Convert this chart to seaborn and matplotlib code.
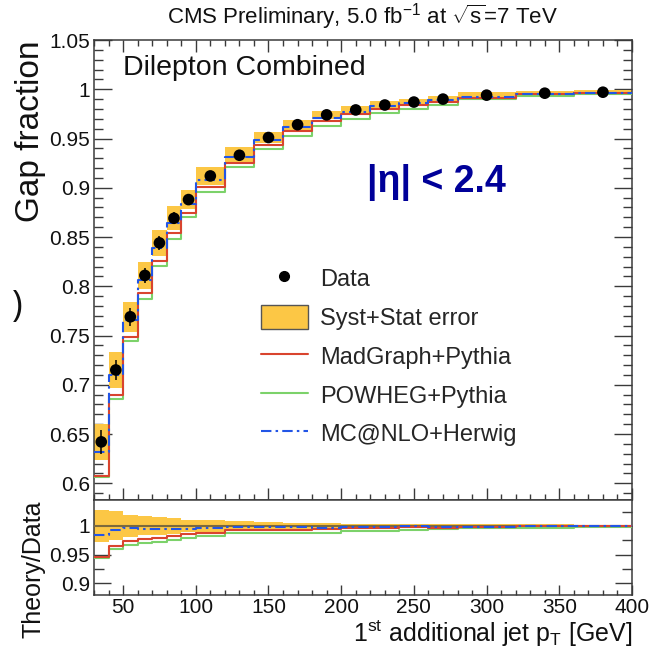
import matplotlib

matplotlib.use("Agg")

import matplotlib.pyplot as plt
import numpy as np
import seaborn as sns
from matplotlib.lines import Line2D
from matplotlib.patches import Patch
from matplotlib.ticker import MultipleLocator


# bin edges / centres of the 1st additional jet pT (GeV)
bin_edges = [30, 40, 50, 60, 70, 80, 90, 100, 120, 140, 160, 180, 200, 220, 240, 260, 280, 320, 360, 400]
bin_centers = [35, 45, 55, 65, 75, 85, 95, 110, 130, 150, 170, 190, 210, 230, 250, 270, 300, 340, 380]

# measured gap fraction
gap_data = [0.642, 0.715, 0.769, 0.811, 0.844, 0.869, 0.888, 0.912, 0.933, 0.951,
            0.964, 0.974, 0.979, 0.984, 0.987, 0.990, 0.994, 0.996, 0.997]
stat_err = [0.012, 0.010, 0.009, 0.008, 0.007, 0.006, 0.006, 0.005, 0.004, 0.003,
            0.003, 0.002, 0.002, 0.002, 0.002, 0.002, 0.001, 0.001, 0.001]
total_err = [0.018, 0.018, 0.015, 0.0135, 0.013, 0.012, 0.0095, 0.0095, 0.0082, 0.006,
             0.005, 0.0043, 0.0038, 0.0038, 0.0035, 0.003, 0.003, 0.0025, 0.002]

# predictions
madgraph = [0.607, 0.690, 0.7485, 0.793, 0.826, 0.8545, 0.8748, 0.901, 0.9256, 0.9438,
            0.9577, 0.968, 0.9746, 0.980, 0.9844, 0.987, 0.9916, 0.995, 0.9963]
powheg = [0.606, 0.686, 0.744, 0.7875, 0.821, 0.8484, 0.870, 0.8957, 0.921, 0.939,
          0.9523, 0.9627, 0.970, 0.976, 0.980, 0.9844, 0.9896, 0.993, 0.995]
mcatnlo = [0.632, 0.710, 0.766, 0.806, 0.839, 0.8643, 0.884, 0.908, 0.931, 0.9489,
           0.9617, 0.971, 0.977, 0.9827, 0.986, 0.9888, 0.992, 0.9956, 0.9966]

labels = ["Data", "Syst+Stat error", "MadGraph+Pythia", "POWHEG+Pythia", "MC@NLO+Herwig"]

BAND = "#FCC745"
RED = "#D9442E"
GREEN = "#7CD26A"
BLUE = "#2255E6"
DASHDOT = (0, (5, 2, 1.2, 2))
FRAME = "#3a3a3a"


def ext(values):
    # repeat last value so a steps-post line covers the final bin
    values = np.asarray(values, dtype=float)
    return np.append(values, values[-1])


def style_axes(ax):
    for side in ax.spines.values():
        side.set_color(FRAME)
        side.set_linewidth(1.1)
    ax.tick_params(which="both", direction="in", colors=FRAME, labelcolor="#111111",
                   top=True, right=True, bottom=True, left=True, width=1.0,
                   labelsize=15)


def draw_steps(ax, y, color, lw, ls="-"):
    sns.lineplot(x=bin_edges, y=ext(y), drawstyle="steps-post", color=color,
                 linewidth=lw, ax=ax, zorder=4)
    ax.lines[-1].set_linestyle(ls)


def main():
    sns.set_theme(style="white")
    plt.rcParams["font.family"] = ["Liberation Sans", "DejaVu Sans"]
    plt.rcParams["mathtext.fontset"] = "custom"
    plt.rcParams["mathtext.rm"] = "Liberation Sans"
    plt.rcParams["mathtext.it"] = "Liberation Sans:italic"

    W = 652.0
    fig = plt.figure(figsize=(6.52, 6.52), dpi=100)
    ax = fig.add_axes([94 / W, 1 - 500 / W, 538 / W, 460 / W])
    rax = fig.add_axes([94 / W, 1 - 595 / W, 538 / W, 95 / W], sharex=ax)

    data = np.asarray(gap_data)
    err = np.asarray(total_err)

    # ---- main panel
    ax.fill_between(bin_edges, ext(data - err), ext(data + err), step="post",
                    color=BAND, linewidth=0, zorder=1)
    draw_steps(ax, powheg, GREEN, 1.5)
    draw_steps(ax, madgraph, RED, 1.5)
    draw_steps(ax, mcatnlo, BLUE, 1.5, DASHDOT)
    ax.errorbar(bin_centers, gap_data, yerr=stat_err, fmt="none", ecolor="black",
                elinewidth=1.1, zorder=5)
    sns.scatterplot(x=bin_centers, y=gap_data, color="black", s=70, edgecolor="none",
                    ax=ax, zorder=6)

    ax.set_xlim(30, 400)
    ax.set_ylim(0.583, 1.05)
    ax.yaxis.set_minor_locator(MultipleLocator(0.01))
    ax.xaxis.set_major_locator(MultipleLocator(50))
    ax.xaxis.set_minor_locator(MultipleLocator(10))
    ax.set_yticks([0.6, 0.65, 0.7, 0.75, 0.8, 0.85, 0.9, 0.95, 1.0, 1.05])
    ax.set_yticklabels(["0.6", "0.65", "0.7", "0.75", "0.8", "0.85", "0.9", "0.95", "1", "1.05"])
    style_axes(ax)
    ax.tick_params(axis="x", which="major", length=8.5, labelbottom=False)
    ax.tick_params(axis="x", which="minor", length=4.5)
    ax.tick_params(axis="y", which="major", length=13, pad=3)
    ax.tick_params(axis="y", which="minor", length=6.5)
    ax.set_xlabel("")
    ax.set_ylabel("")

    ax.text(0.054, 0.939, "Dilepton Combined", transform=ax.transAxes,
            fontsize=20.5, va="center", ha="left", color="#111111")
    ax.text(0.507, 0.691, "|η| < 2.4", transform=ax.transAxes, fontsize=27,
            fontweight="bold", color="#000099", va="center", ha="left")

    handles = [
        Line2D([], [], marker="o", ls="none", color="black", markersize=7),
        Patch(facecolor=BAND, edgecolor="#555555", linewidth=1.0),
        Line2D([], [], color=RED, lw=1.5),
        Line2D([], [], color=GREEN, lw=1.5),
        Line2D([], [], color=BLUE, lw=1.5, ls=DASHDOT),
    ]
    ax.legend(handles, labels, loc="upper left", bbox_to_anchor=(0.31, 0.508),
              frameon=False, fontsize=17, handlelength=2.0, handleheight=1.2,
              labelspacing=0.58, handletextpad=0.5, borderpad=0, borderaxespad=0)

    # ---- ratio panel
    rel = err / data
    rax.fill_between(bin_edges, ext(1 - rel), ext(1 + rel), step="post",
                     color=BAND, linewidth=0, zorder=1)
    rax.axhline(1.0, color="#7d6a3c", linewidth=1.5, zorder=3)
    draw_steps(rax, np.asarray(powheg) / data, GREEN, 1.5)
    draw_steps(rax, np.asarray(madgraph) / data, RED, 1.5)
    draw_steps(rax, np.asarray(mcatnlo) / data, BLUE, 1.5, DASHDOT)

    rax.set_ylim(0.88, 1.045)
    rax.set_yticks([0.9, 0.95, 1.0])
    rax.set_yticklabels(["0.9", "0.95", "1"])
    rax.yaxis.set_minor_locator(MultipleLocator(0.025))
    style_axes(rax)
    rax.tick_params(axis="x", which="major", length=7, top=False, pad=2)
    rax.tick_params(axis="x", which="minor", length=3.5, top=False)
    rax.tick_params(axis="y", which="major", length=12, pad=3)
    rax.tick_params(axis="y", which="minor", length=7)
    rax.set_xlim(30, 400)
    rax.set_xlabel("")
    rax.set_ylabel("")

    # ---- texts around the frame
    fig.text(362 / W, 1 - 17 / W,
             r"CMS Preliminary, 5.0 fb$^{\mathregular{-1}}$ at $\sqrt{\mathrm{s}}$=7 TeV",
             ha="center", va="center", fontsize=16, color="#111111")
    fig.text(31 / W, 1 - 40 / W, "Gap fraction", rotation=90, ha="center", va="top",
             fontsize=24, color="#111111")
    fig.text(33 / W, 1 - 500 / W, "Theory/Data", rotation=90, ha="center", va="top",
             fontsize=18, color="#111111")
    fig.text(632 / W, 1 - 634 / W, r"1$^{\mathregular{st}}$ additional jet p$_{\mathregular{T}}$ [GeV]",
             ha="right", va="center", fontsize=18, color="#111111")
    fig.text(17 / W, 1 - 307 / W, ")", ha="center", va="center", fontsize=26,
             family=["Open Sans", "DejaVu Sans"], color="#111111")

    fig.savefig("out.png", dpi=100)
    plt.close(fig)


if __name__ == "__main__":
    main()
